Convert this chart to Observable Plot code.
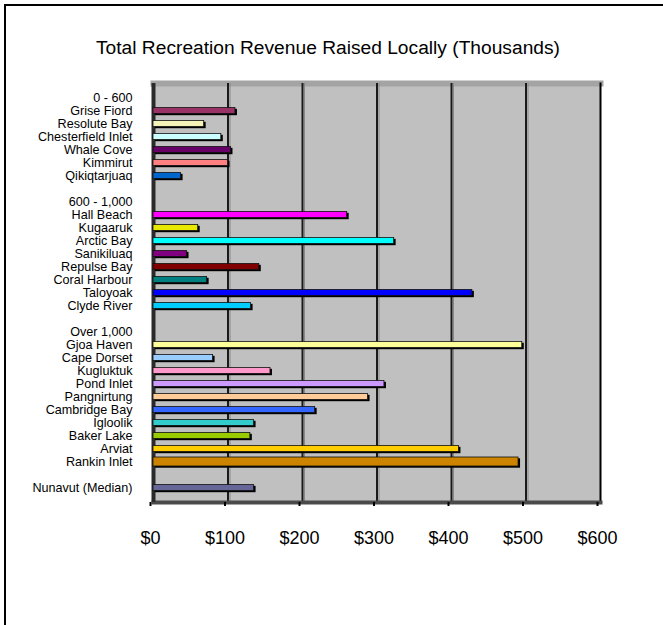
<!DOCTYPE html>
<html>
<head>
<meta charset="utf-8">
<script src="https://cdn.jsdelivr.net/npm/d3@7"></script>
<script src="https://cdn.jsdelivr.net/npm/@observablehq/plot@0.6"></script>
<style>
  html, body { margin: 0; padding: 0; background: #fff; }
  #wrap { position: relative; width: 663px; height: 625px; overflow: hidden; font-family: "Liberation Sans", Arial, sans-serif; }
  #border { position: absolute; left: 4px; top: 4px; right: -10px; bottom: -10px; border-left: 2px solid #000; border-top: 2px solid #000; }
  #title { position: absolute; top: 37px; left: 0; width: 656px; text-align: center; font-size: 19.2px; color: #000; white-space: nowrap; }
  #chart { position: absolute; left: 0; top: 0; }
</style>
</head>
<body>
<div id="wrap">
  <div id="chart"></div>
  <div id="border"></div>
  <div id="title">Total Recreation Revenue Raised Locally (Thousands)</div>
</div>
<script>
const rowLabels = ["0 - 600","Grise Fiord","Resolute Bay","Chesterfield Inlet","Whale Cove","Kimmirut","Qikiqtarjuaq","",
  "600 - 1,000","Hall Beach","Kugaaruk","Arctic Bay","Sanikiluaq","Repulse Bay","Coral Harbour","Taloyoak","Clyde River","",
  "Over 1,000","Gjoa Haven","Cape Dorset","Kugluktuk","Pond Inlet","Pangnirtung","Cambridge Bay","Igloolik","Baker Lake","Arviat","Rankin Inlet","",
  "Nunavut (Median)"];
const values = [null,110,68,91,104,100,37,null,
  null,260,60,323,45,142,72,428,131,null,
  null,495,80,157,310,288,217,135,130,410,490,null,
  135];
const colors = [null,"#993366","#f4f4b8","#ccffff","#660066","#ff8080","#0066cc",null,
  null,"#ff00ff","#e8e800","#00ffff","#800080","#800000","#008080","#0000ff","#00ccff",null,
  null,"#ffff99","#99ccff","#ff99cc","#cc99ff","#ffcc99","#3366ff","#33cccc","#99cc00","#ffcc00","#cc8400",null,
  "#666699"];
const xTicks = [0,100,200,300,400,500,600];
const thickRow = "Rankin Inlet";

const rows = rowLabels.map((label, i) => ({i, label, value: values[i], color: colors[i]}));
const bars = rows.filter(d => d.value != null && d.label !== thickRow);
const thick = rows.filter(d => d.value != null && d.label === thickRow);

const chart = Plot.plot({
  width: 663,
  height: 625,
  marginLeft: 153,
  marginRight: 63,
  marginTop: 83,
  marginBottom: 123,
  style: {fontFamily: "'Liberation Sans', Arial, sans-serif", background: "transparent", color: "#000"},
  x: {domain: [xTicks[0], xTicks[xTicks.length - 1]]},
  y: {domain: rows.map(d => d.i), padding: 0, insetTop: 4, insetBottom: 4},
  color: {type: "identity"},
  marks: [
    Plot.rect([xTicks], {x1: d => d[0], x2: d => d[d.length - 1], fill: "#c0c0c0"}),
    Plot.frame({anchor: "top", stroke: "#a4a4a4", strokeWidth: 6}),
    Plot.ruleX(xTicks.slice(1, -1), {stroke: "#1a1a1a", strokeWidth: 2}),
    Plot.ruleX(xTicks.slice(1, -1), {stroke: "#888", strokeWidth: 1, dx: 2}),
    Plot.frame({anchor: "right", stroke: "#000", strokeWidth: 2}),
    Plot.frame({anchor: "bottom", stroke: "#4a4a4a", strokeWidth: 4}),
    Plot.ruleX([xTicks[0]], {stroke: "#2a2a2a", strokeWidth: 4}),
    Plot.barX(bars, {y: "i", x: "value", fill: "#000", insetTop: 3.8, insetBottom: 2.8, dx: 2, dy: 1}),
    Plot.barX(bars, {y: "i", x: "value", fill: "color", stroke: "#111", strokeWidth: 0.8, insetTop: 3.5, insetBottom: 3.5}),
    Plot.barX(thick, {y: "i", x: "value", fill: "#000", insetTop: 2.3, insetBottom: 1.3, dx: 2, dy: 1}),
    Plot.barX(thick, {y: "i", x: "value", fill: "color", stroke: "#111", strokeWidth: 0.8, insetTop: 2, insetBottom: 2}),
    Plot.axisY({tickSize: 0, tickPadding: 21, fontSize: 12.6, tickFormat: i => rowLabels[i], label: null}),
    Plot.axisX({ticks: xTicks, tickFormat: d => "$" + d, tickSize: 4, tickPadding: 25, fontSize: 18, label: null, strokeWidth: 2, dx: -3})
  ]
});
document.getElementById("chart").appendChild(chart);
</script>
</body>
</html>
